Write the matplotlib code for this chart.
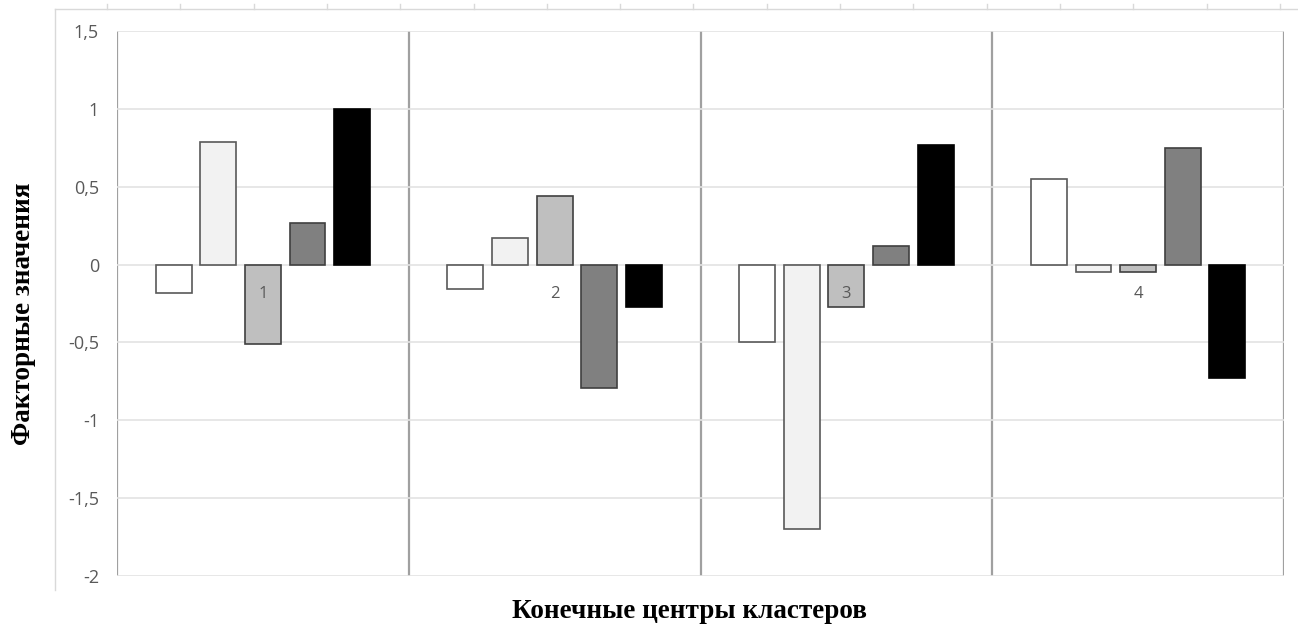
import matplotlib
matplotlib.use("Agg")
import matplotlib.pyplot as plt
from matplotlib.lines import Line2D
from matplotlib.ticker import FixedLocator

# Cluster centres: five factor scores per cluster
clusters = ["1", "2", "3", "4"]
factor_1 = [-0.18, -0.16, -0.50, 0.55]
factor_2 = [0.79, 0.17, -1.70, -0.05]
factor_3 = [-0.51, 0.44, -0.27, -0.05]
factor_4 = [0.27, -0.79, 0.12, 0.75]
factor_5 = [1.00, -0.27, 0.77, -0.73]
series = [factor_1, factor_2, factor_3, factor_4, factor_5]

y_ticks = [-2, -1.5, -1, -0.5, 0, 0.5, 1, 1.5]
y_tick_labels = ["-2", "-1,5", "-1", "-0,5", "0", "0,5", "1", "1,5"]

fills = ["#ffffff", "#f2f2f2", "#bfbfbf", "#808080", "#000000"]
edges = ["#595959", "#595959", "#404040", "#404040", "#000000"]

W, H = 1298, 634
fig = plt.figure(figsize=(W / 100, H / 100), dpi=100)
ax = fig.add_axes([117 / W, 1 - 576 / H, (1284 - 117) / W, (576 - 31) / H])

step = 0.153
width = 0.123
for i, (vals, fc, ec) in enumerate(zip(series, fills, edges)):
    xs = [g + (i - 2) * step for g in range(len(clusters))]
    ax.bar(xs, vals, width=width, color=fc, edgecolor=ec, linewidth=1.2, zorder=3)

ax.set_xlim(-0.5, len(clusters) - 0.5)
ax.set_ylim(-2, 1.5)
ax.yaxis.set_major_locator(FixedLocator(y_ticks))
ax.set_yticklabels(y_tick_labels)
ax.tick_params(axis="y", length=0, pad=13, labelsize=13, labelcolor="#595959")
ax.tick_params(axis="x", length=0, labelbottom=False)
for lab in ax.get_yticklabels():
    lab.set_family(["Open Sans", "DejaVu Sans"])

ax.grid(axis="y", color="#e3e3e3", linewidth=1.2, zorder=0)
for s in ax.spines.values():
    s.set_visible(False)

# group dividers
for b in range(len(clusters) + 1):
    ax.axvline(b - 0.5, color="#a0a0a0", linewidth=1.6, zorder=1)

# category labels sit just below the zero line
for g, name in enumerate(clusters):
    ax.text(g, -0.19, name, ha="center", va="center", fontsize=12,
            color="#595959", family=["Open Sans", "DejaVu Sans"], zorder=5)

serif = ["Liberation Serif", "DejaVu Serif"]
fig.text(690 / W, 1 - 612 / H, "Конечные центры кластеров", ha="center", va="center",
         fontsize=19.5, fontweight="bold", family=serif)
fig.text(24 / W, 1 - 314 / H, "Факторные значения", ha="center", va="center",
         rotation=90, fontsize=19.5, fontweight="bold", family=serif)

# outer frame with small ticks along its top edge
def px_line(x0, y0, x1, y1, color="#d9d9d9", lw=1.0):
    fig.add_artist(Line2D([x0 / W, x1 / W], [1 - y0 / H, 1 - y1 / H],
                          color=color, linewidth=lw, transform=fig.transFigure))

px_line(55, 9, 1297, 9)
px_line(55, 9, 55, 590)
for k in range(17):
    x = 107 + k * 73.3
    px_line(x, 4, x, 9)

fig.savefig("out.png", dpi=100)
